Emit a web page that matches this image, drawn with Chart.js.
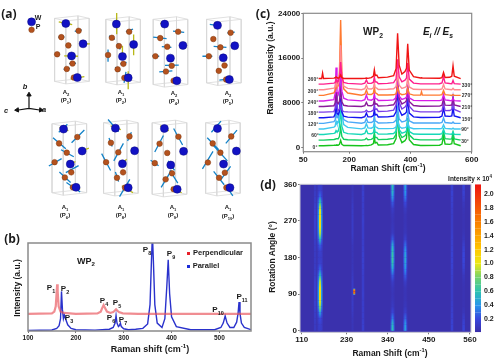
<!DOCTYPE html>
<html>
<head>
<meta charset="utf-8">
<title>WP2 Raman</title>
<script src="https://cdn.jsdelivr.net/npm/chart.js@4/dist/chart.umd.min.js"></script>
<style>
  html, body { margin: 0; padding: 0; background: #fff; }
  #page { position: relative; width: 500px; height: 360px; overflow: hidden; font-family: "Liberation Sans", sans-serif; color: #1a1a1a; }
  canvas { position: absolute; }
  .t { position: absolute; transform: translate(-50%, -50%); font-weight: bold; white-space: nowrap; line-height: 1; }
  .r { transform: translate(-50%, -50%) rotate(-90deg); }
  .panel { font: bold 12px "Open Sans", sans-serif; }
  .cell { font-size: 6px; }
  .peak { font-size: 8px; }
  .ang { font-size: 5px; color: #333; }
  .title { font-size: 8.5px; }
  .big { font-size: 10px; }
  sub, sup { font-size: 68%; line-height: 0; }
  .key { position: absolute; width: 3px; height: 3px; }
</style>
</head>
<body>
<div id="page">
  <canvas id="atoms" width="250" height="220" style="left:0;top:0"></canvas>
  <canvas id="specB" width="258" height="125" style="left:0;top:235px"></canvas>
  <canvas id="specC" width="225" height="165" style="left:255px;top:5px"></canvas>
  <canvas id="heat" width="232" height="172" style="left:255px;top:178px"></canvas>
  <canvas id="cbar" width="25" height="172" style="left:475px;top:178px"></canvas>

  <!-- panel a -->
  <div class="t panel" style="left:9px;top:13px">(a)</div>
  <div class="t" style="left:38px;top:17px;font-size:7px">W</div>
  <div class="t" style="left:38px;top:26px;font-size:7px">P</div>
  <div class="t" style="left:25px;top:87px;font-size:7.5px;font-style:italic">b</div>
  <div class="t" style="left:6px;top:111px;font-size:7.5px;font-style:italic">c</div>
  <div class="t" style="left:44px;top:110px;font-size:7.5px;font-style:italic">a</div>
  <div class="t cell" style="left:66px;top:92px">A<sub>2</sub></div>
  <div class="t cell" style="left:66px;top:100px">(P<sub>1</sub>)</div>
  <div class="t cell" style="left:121px;top:92px">A<sub>1</sub></div>
  <div class="t cell" style="left:121px;top:100px">(P<sub>2</sub>)</div>
  <div class="t cell" style="left:174px;top:93px">A<sub>2</sub></div>
  <div class="t cell" style="left:174px;top:101px">(P<sub>4</sub>)</div>
  <div class="t cell" style="left:228px;top:93px">A<sub>2</sub></div>
  <div class="t cell" style="left:228px;top:101px">(P<sub>5</sub>)</div>
  <div class="t cell" style="left:65px;top:207px">A<sub>1</sub></div>
  <div class="t cell" style="left:65px;top:215px">(P<sub>6</sub>)</div>
  <div class="t cell" style="left:121px;top:207px">A<sub>1</sub></div>
  <div class="t cell" style="left:121px;top:215px">(P<sub>8</sub>)</div>
  <div class="t cell" style="left:173px;top:207px">A<sub>1</sub></div>
  <div class="t cell" style="left:173px;top:215px">(P<sub>9</sub>)</div>
  <div class="t cell" style="left:228px;top:207px">A<sub>1</sub></div>
  <div class="t cell" style="left:228px;top:216px">(P<sub>10</sub>)</div>

  <!-- panel b -->
  <div class="t panel" style="left:12px;top:238px">(b)</div>
  <div class="t" style="left:86px;top:261px;font-size:9px">WP<sub>2</sub></div>
  <div class="t peak" style="left:51px;top:288px">P<sub>1</sub></div>
  <div class="t peak" style="left:65px;top:289px">P<sub>2</sub></div>
  <div class="t peak" style="left:69px;top:318px">P<sub>3</sub></div>
  <div class="t peak" style="left:104px;top:301px">P<sub>4</sub></div>
  <div class="t peak" style="left:117px;top:303px">P<sub>5</sub></div>
  <div class="t peak" style="left:111px;top:318px">P<sub>6</sub></div>
  <div class="t peak" style="left:123px;top:320px">P<sub>7</sub></div>
  <div class="t peak" style="left:147px;top:250px">P<sub>8</sub></div>
  <div class="t peak" style="left:171px;top:254px">P<sub>9</sub></div>
  <div class="t peak" style="left:218px;top:310px">P<sub>10</sub></div>
  <div class="t peak" style="left:242px;top:297px">P<sub>11</sub></div>
  <div class="key" style="left:187px;top:252px;background:#e8202a"></div>
  <div class="t" style="left:218px;top:253px;font-size:7.5px">Perpendicular</div>
  <div class="key" style="left:187px;top:265px;background:#1c2cd8"></div>
  <div class="t" style="left:206px;top:266px;font-size:7.5px">Parallel</div>
  <div class="t title r" style="left:17px;top:288px">Intensity (a.u.)</div>
  <div class="t" style="left:150px;top:349px;font-size:9px">Raman shift (cm<sup>-1</sup>)</div>

  <!-- panel c -->
  <div class="t panel" style="left:263px;top:13px">(c)</div>
  <div class="t big" style="left:373px;top:32px">WP<sub>2</sub></div>
  <div class="t big" style="left:438px;top:32px;font-style:italic">E<sub>i</sub> // E<sub>s</sub></div>
  <div class="t title r" style="left:270px;top:68px">Raman Instensity (a.u.)</div>
  <div class="t title" style="left:388px;top:168px">Raman Shift (cm<sup>-1</sup>)</div>
  <div class="t ang" style="left:313px;top:79px">360°</div>
  <div class="t ang" style="left:313px;top:91px">300°</div>
  <div class="t ang" style="left:313px;top:102px">240°</div>
  <div class="t ang" style="left:313px;top:113px">180°</div>
  <div class="t ang" style="left:313px;top:124px">120°</div>
  <div class="t ang" style="left:315px;top:135px">60°</div>
  <div class="t ang" style="left:315px;top:147px">0°</div>
  <div class="t ang" style="left:467px;top:85px">330°</div>
  <div class="t ang" style="left:467px;top:95px">270°</div>
  <div class="t ang" style="left:467px;top:107px">210°</div>
  <div class="t ang" style="left:467px;top:119px">150°</div>
  <div class="t ang" style="left:465px;top:129px">90°</div>
  <div class="t ang" style="left:465px;top:141px">30°</div>

  <!-- panel d -->
  <div class="t panel" style="left:268px;top:184px">(d)</div>
  <div class="t title r" style="left:272px;top:257px">Rotation Angle (°)</div>
  <div class="t title" style="left:390px;top:353px">Raman Shift (cm<sup>-1</sup>)</div>
  <div class="t" style="left:470px;top:179px;font-size:6.5px">Intensity × 10<sup>4</sup></div>
</div>

<script>
  /* ---------- (a) atoms, all read in 3x crop units ---------- */
  const wAtoms = [
    [83, 53],
    [190, 58], [244, 122], [208, 160], [226, 228],
    [348, 60], [402, 124], [367, 162], [385, 229],
    [499, 60], [556, 127], [517, 167], [537, 238],
    [664, 64], [718, 128], [682, 166], [701, 234],
    [183, 390], [241, 459], [204, 500], [222, 573],
    [345, 387], [405, 458], [367, 499], [385, 574],
    [498, 388], [558, 460], [518, 503], [538, 579],
    [664, 388], [723, 459], [683, 500], [703, 574]
  ];
  const pAtoms = [
    [83, 78],
    [230, 81], [176, 101], [198, 127], [163, 155], [211, 184], [193, 201], [215, 228],
    [388, 84], [334, 103], [356, 129], [322, 157], [370, 185], [352, 202], [373, 229],
    [541, 84], [485, 104], [507, 131], [470, 161], [521, 191], [503, 209], [527, 238],
    [705, 87], [651, 107], [673, 133], [637, 161], [686, 190], [668, 207], [691, 234],
    [226, 415], [169, 435], [193, 464], [155, 494], [207, 526], [187, 542], [212, 573],
    [389, 413], [331, 433], [354, 463], [316, 494], [369, 526], [350, 543], [375, 574],
    [542, 414], [483, 436], [507, 465], [468, 497], [522, 529], [502, 548], [527, 579],
    [707, 413], [649, 435], [673, 464], [634, 495], [687, 527], [669, 543], [692, 574]
  ];
  const yellowArrows = [
    [168, 53, 210, 62], [232, 122, 265, 122], [185, 160, 228, 161], [205, 232, 248, 225],
    [349, 25, 349, 92], [402, 93, 402, 158], [367, 128, 367, 158], [385, 208, 385, 265],
    [485, 57, 500, 62], [548, 127, 560, 127], [525, 238, 535, 240],
    [170, 385, 198, 395], [250, 455, 262, 450], [210, 498, 220, 492], [205, 570, 235, 578],
    [330, 380, 362, 392], [395, 450, 414, 462], [375, 490, 380, 485], [365, 568, 400, 590],
    [485, 380, 512, 395], [550, 458, 568, 452], [508, 500, 525, 510], [520, 572, 552, 590]
  ];
  const blueArrows = [
    [218, 83, 240, 78], [166, 101, 186, 100], [190, 127, 207, 127], [155, 155, 172, 155], [200, 184, 222, 183], [183, 202, 203, 199],
    [378, 84, 400, 76], [325, 97, 343, 108], [352, 120, 360, 140], [322, 140, 322, 178], [360, 185, 380, 180], [344, 196, 360, 208], [378, 210, 372, 245],
    [463, 101, 505, 106], [525, 82, 560, 86], [490, 131, 520, 133], [460, 160, 482, 161], [500, 190, 543, 189], [482, 210, 523, 207],
    [640, 61, 662, 64], [695, 88, 718, 85], [652, 130, 692, 133], [617, 161, 648, 161], [680, 190, 695, 188], [660, 207, 677, 204], [670, 236, 690, 234],
    [208, 433, 248, 393], [150, 417, 190, 452], [175, 455, 215, 477], [137, 506, 177, 483], [190, 527, 230, 505], [170, 525, 205, 558], [192, 558, 235, 588], [168, 400, 195, 375],
    [322, 360, 355, 398], [383, 427, 395, 400], [325, 418, 335, 445], [340, 490, 370, 435], [302, 467, 330, 520], [345, 525, 355, 555], [358, 602, 390, 548],
    [527, 388, 555, 440], [468, 462, 495, 410], [455, 488, 480, 505], [510, 490, 530, 520], [488, 573, 520, 520], [515, 520, 540, 560],
    [690, 435, 725, 393], [632, 417, 668, 455], [650, 440, 695, 490], [617, 515, 650, 460], [675, 548, 705, 507], [652, 523, 685, 565], [692, 570, 712, 600], [645, 400, 675, 365]
  ];
  const triadLines = [[75, 325, 75, 285], [75, 325, 108, 330], [75, 325, 42, 330]];
  const triadTips = [[75, 282], [112, 330], [38, 330]];
  const triadTurns = [0, 95, -95];
  // top-left corner and height of every unit cell
  const cellOrigins = [[155, 42, 198], [315, 45, 198], [463, 45, 205], [630, 45, 200], [147, 373, 217], [308, 370, 222], [460, 370, 225], [627, 370, 222]];
  const cellFace = [[0, 0], [73, -8], [108, 0], [35, 8], [0, 0]];

  /* ---------- (b) calculated spectra ---------- */
  const perpX = [100, 150, 155, 158, 160, 161, 162, 164, 168, 175, 200, 245, 252, 255, 258, 261, 265, 272, 278, 281, 284, 287, 290, 298, 330, 566];
  const perpY = [19.5, 20, 22, 28, 45, 53, 45, 28, 22, 20.5, 19.5, 20, 22, 26, 29.5, 26, 22, 20.5, 21.5, 23, 24.7, 23, 21.5, 20, 19.5, 19.5];
  const paraX = [100, 150, 160, 165, 168, 170, 172, 174, 176, 179, 183, 190, 200, 240, 270, 278, 282, 284, 286, 289, 291, 293, 295, 300, 310, 325, 340, 350, 355, 358, 360, 362, 365, 370, 380, 386, 390, 393, 396, 400, 410, 440, 490, 503, 508, 512, 516, 522, 530, 536, 539, 541, 543, 546, 552, 566];
  const paraY = [0.5, 1.2, 3, 6, 14, 45, 24, 14, 18, 13, 7, 3, 1.5, 1, 2, 4, 9, 17.5, 9, 5, 6, 9, 5, 2.5, 1.5, 2, 3, 8, 30, 80, 110, 80, 30, 9, 4, 14, 50, 81, 42, 16, 5, 1.5, 1.5, 4, 9, 17, 9, 4, 4, 10, 20, 33, 20, 9, 4, 1.5];
  const bTicksX = [100, 200, 300, 400, 500];

  /* ---------- (c) stacked polarised spectra ---------- */
  const shifts = [100, 110, 113, 116, 150, 154, 157, 160, 164, 168, 172, 176, 182, 195, 240, 251, 256, 261, 272, 279, 282, 285, 290, 295, 325, 345, 353, 358, 363, 372, 382, 387, 391, 396, 410, 433, 436, 439, 495, 503, 508, 513, 528, 535, 539, 543, 564];
  const angles = [0, 30, 60, 90, 120, 150, 180, 210, 240, 270, 300, 330, 360];
  const angleOffsets = [300, 1300, 2300, 3300, 4300, 5300, 6300, 7300, 8300, 9300, 10300, 11300, 12300];
  const angleColors = ['#16c41c', '#10d060', '#18d8b8', '#40c8f0', '#4aa8f8', '#1414f0', '#7a3ce8', '#8a1a9a', '#d81ce8', '#ff7a30', '#ff8a90', '#ff1e8c', '#f01414'];
  const i0 = [50, 50, 50, 50, 130, 150, 150, 190, 130, 300, 1000, 300, 90, 90, 60, 70, 100, 70, 200, 450, 1500, 550, 650, 180, 240, 420, 1320, 6000, 1800, 610, 960, 1365, 4500, 1125, 270, 100, 100, 100, 140, 360, 1800, 360, 300, 400, 2000, 400, 50];
  const i30 = [50, 50, 50, 50, 170, 210, 315, 300, 290, 700, 2300, 690, 210, 130, 60, 130, 400, 130, 190, 420, 1400, 500, 540, 150, 210, 360, 1100, 5000, 1500, 520, 820, 1200, 4000, 1000, 240, 100, 100, 100, 130, 320, 1600, 320, 240, 280, 1400, 280, 50];
  const i60 = [50, 50, 50, 50, 250, 350, 750, 550, 640, 1520, 5000, 1500, 450, 210, 60, 230, 900, 230, 180, 390, 1300, 450, 430, 125, 150, 240, 660, 3000, 900, 310, 490, 720, 2400, 600, 145, 100, 100, 100, 100, 200, 1000, 200, 120, 100, 500, 100, 50];
  const i90 = [50, 50, 50, 50, 370, 570, 1450, 970, 1160, 2740, 9000, 2700, 810, 330, 60, 250, 1000, 250, 180, 390, 1300, 430, 330, 105, 110, 160, 375, 1700, 510, 175, 275, 395, 1300, 325, 80, 100, 100, 100, 90, 160, 800, 160, 80, 40, 200, 40, 50];
  const i120 = [50, 50, 50, 50, 340, 640, 1900, 1060, 1080, 2460, 8000, 2400, 720, 300, 60, 230, 900, 230, 190, 420, 1400, 460, 340, 110, 145, 230, 615, 2800, 840, 285, 440, 610, 2000, 500, 120, 100, 100, 100, 100, 200, 1000, 200, 100, 60, 300, 60, 50];
  const i150 = [50, 50, 50, 50, 205, 700, 2675, 845, 620, 1150, 3500, 1050, 315, 165, 60, 230, 900, 230, 200, 450, 1500, 550, 650, 175, 210, 360, 1100, 5000, 1500, 505, 780, 1075, 3500, 875, 210, 100, 100, 100, 140, 360, 1800, 360, 290, 370, 1850, 370, 50];
  const i180 = [50, 50, 50, 50, 145, 745, 3075, 805, 300, 570, 1500, 450, 135, 105, 60, 130, 400, 130, 190, 420, 1400, 520, 640, 170, 240, 420, 1320, 6000, 1800, 610, 960, 1365, 4500, 1125, 270, 100, 100, 100, 130, 320, 1600, 320, 340, 520, 2600, 520, 50];
  const i210 = [50, 50, 50, 50, 190, 690, 2650, 810, 560, 1000, 3000, 900, 270, 150, 60, 210, 800, 210, 180, 390, 1300, 470, 530, 145, 210, 360, 1100, 5000, 1500, 515, 805, 1150, 3800, 950, 230, 100, 100, 100, 125, 300, 1500, 300, 250, 320, 1600, 320, 50];
  const i240 = [50, 50, 50, 50, 280, 1420, 6000, 1660, 1180, 2030, 6000, 1800, 540, 240, 60, 270, 1100, 270, 180, 390, 1300, 450, 430, 125, 150, 240, 660, 3000, 900, 315, 500, 745, 2500, 625, 150, 100, 100, 100, 110, 240, 1200, 240, 135, 100, 500, 100, 50];
  const i270 = [50, 50, 50, 50, 500, 900, 2675, 1440, 1780, 4130, 13500, 4050, 1215, 465, 60, 250, 1000, 250, 200, 450, 1500, 490, 350, 115, 105, 150, 330, 1500, 450, 160, 255, 385, 1300, 325, 80, 100, 700, 100, 95, 180, 900, 180, 90, 40, 200, 40, 50];
  const i300 = [50, 50, 50, 50, 340, 540, 1400, 860, 1040, 2440, 8000, 2400, 720, 300, 60, 230, 900, 230, 180, 390, 1300, 430, 330, 105, 145, 230, 615, 2800, 840, 290, 455, 665, 2200, 550, 130, 100, 100, 100, 100, 200, 1000, 200, 100, 60, 300, 60, 50];
  const i330 = [50, 50, 50, 50, 220, 340, 800, 500, 530, 1220, 4000, 1200, 360, 180, 60, 210, 800, 210, 180, 390, 1300, 450, 430, 125, 195, 330, 990, 4500, 1350, 455, 750, 1130, 3800, 950, 230, 100, 100, 100, 120, 280, 1400, 280, 170, 140, 700, 140, 50];
  const i360 = [50, 50, 1000, 50, 120, 190, 335, 210, 110, 220, 700, 210, 60, 80, 60, 80, 150, 80, 210, 480, 1600, 580, 660, 180, 300, 550, 1800, 8150, 2450, 840, 1315, 1890, 6250, 1560, 375, 150, 180, 150, 110, 225, 1130, 225, 275, 465, 2320, 465, 50];
  const spectra = [i0, i30, i60, i90, i120, i150, i180, i210, i240, i270, i300, i330, i360];
  const cTicksX = [50, 200, 400, 600];
  const cTicksY = [0, 8000, 16000, 24000];

  /* ---------- (d) intensity map, x 10^4, one row every 15 degrees ---------- */
  const heatAngles = [0, 15, 30, 45, 60, 75, 90, 105, 120, 135, 150, 165, 180, 195, 210, 225, 240, 255, 270, 285, 300, 315, 330, 345, 360];
  const core159 = [.12, .14, .2, .45, .85, 1.05, 1.1, 1.05, .9, .55, .28, .15, .12, .14, .25, .55, .9, 1.05, 1.1, 1.05, .95, .6, .28, .15, .12];
  const halo159 = [.12, .12, .15, .25, .35, .4, .42, .4, .35, .28, .18, .13, .12, .12, .18, .28, .36, .4, .42, .4, .36, .3, .18, .13, .12];
  const line146 = [.1, .1, .11, .12, .14, .15, .16, .15, .14, .12, .11, .1, .1, .1, .11, .12, .14, .15, .16, .15, .14, .12, .11, .1, .1];
  const line246 = [.07, .07, .08, .1, .12, .12, .12, .12, .12, .1, .08, .07, .07, .07, .08, .1, .12, .12, .12, .12, .12, .1, .08, .07, .07];
  const line274 = [.14, .14, .13, .13, .13, .13, .14, .13, .13, .13, .14, .14, .15, .14, .13, .13, .13, .13, .14, .13, .13, .13, .14, .14, .14];
  const core353 = [.6, .55, .35, .18, .1, .08, .07, .08, .12, .25, .45, .6, .65, .6, .5, .25, .1, .08, .07, .08, .12, .25, .45, .55, .6];
  const halo353 = [.3, .28, .18, .11, .07, .06, .05, .06, .08, .14, .24, .3, .32, .3, .25, .14, .07, .06, .05, .06, .08, .14, .24, .28, .3];
  const core387 = [.45, .42, .28, .14, .08, .07, .06, .07, .12, .25, .38, .45, .48, .42, .3, .15, .08, .07, .06, .07, .1, .2, .35, .42, .45];
  const halo387 = [.24, .22, .15, .09, .06, .05, .05, .05, .08, .14, .2, .24, .25, .22, .16, .09, .06, .05, .05, .05, .07, .12, .19, .22, .24];
  const line512 = [.16, .16, .15, .14, .13, .12, .12, .12, .13, .14, .15, .16, .16, .16, .15, .14, .13, .12, .12, .12, .13, .14, .15, .16, .16];
  const line543 = [.18, .17, .13, .08, .05, .05, .05, .05, .06, .09, .14, .18, .2, .18, .14, .09, .06, .05, .05, .05, .06, .09, .14, .17, .18];
  const spotAngles = [88, 92, 96, 100, 104];
  const spotLevels = [.4, 1.5, 1.8, 1.5, .4];
  const heatTicksX = [110, 230, 340, 450, 560];
  const heatTicksY = [0, 90, 180, 270, 360];
  const barLevels = [.01, .1, .2, .3, .4, .5, .6, .7, .8, .9, 1, 1.1, 1.2, 1.3, 1.4, 1.5, 1.6, 1.7, 1.8, 1.9, 2, 2.14];
  const barTicks = [.2, .4, .6, .8, 1, 1.2, 1.4, 1.6, 1.8, 2];
  const mapLevels = [0, .2, .4, .6, .8, 1, 1.2, 1.6, 2.14];
  const mapColors = [[58, 45, 165], [56, 70, 220], [40, 150, 235], [45, 195, 175], [115, 210, 110], [236, 232, 20], [255, 200, 0], [248, 125, 0], [238, 20, 16]];

  Chart.defaults.animation = false;
  Chart.defaults.responsive = false;
  Chart.defaults.font.family = '"Liberation Sans", sans-serif';
  Chart.defaults.font.weight = 'bold';
  Chart.defaults.color = '#1a1a1a';
  Chart.defaults.plugins.legend.display = false;
  Chart.defaults.plugins.tooltip.enabled = false;
  Chart.defaults.elements.point.radius = 0;

  // plain box round the plot area
  const framePlugin = {
    id: 'frame',
    afterDatasetsDraw(chart, args, opts) {
      const a = chart.chartArea, c = chart.ctx;
      c.save();
      c.strokeStyle = opts.color || '#888';
      c.lineWidth = opts.width || 1.5;
      c.strokeRect(a.left, a.top, a.width, a.height);
      c.restore();
    }
  };
  const paintPlugin = {
    id: 'paint',
    beforeDatasetsDraw(chart, args, opts) {
      const a = chart.chartArea;
      chart.ctx.fillStyle = opts.color;
      chart.ctx.fillRect(a.left, a.top, a.width, a.height);
    }
  };

  // keep the plot area where the reference has it
  function fixSize(px) {
    return s => {
      if (s.isHorizontal()) s.height = px; else s.width = px;
      s.paddingLeft = s.paddingRight = s.paddingTop = s.paddingBottom = 0;
    };
  }
  function useTicks(list) {
    return s => { s.ticks = list.map(v => ({ value: v })); };
  }
  function axis(min, max, ticks, size, px, labels) {
    return {
      type: 'linear', min, max,
      afterBuildTicks: useTicks(ticks),
      afterFit: fixSize(px),
      grid: { drawOnChartArea: false, drawTicks: true, tickLength: 2, color: '#777' },
      border: { display: false },
      ticks: { display: labels !== false, autoSkip: false, maxRotation: 0, padding: 1, font: { size }, callback: v => String(v) }
    };
  }
  function pairs(xs, ys) {
    return xs.map((x, i) => ({ x, y: ys[i] }));
  }
  function strokes(list) {
    const out = [];
    list.forEach(s => {
      out.push({ x: s[0], y: s[1] }, { x: s[2], y: s[3] }, { x: null, y: null });
    });
    return out;
  }
  function cellBoxes() {
    const out = [];
    cellOrigins.forEach(([ox, oy, h]) => {
      [0, h].forEach(dy => {
        cellFace.forEach(f => out.push({ x: ox + f[0], y: oy + f[1] + dy }));
        out.push({ x: null, y: null });
      });
      cellFace.slice(0, 4).forEach(f => {
        out.push({ x: ox + f[0], y: oy + f[1] }, { x: ox + f[0], y: oy + f[1] + h }, { x: null, y: null });
      });
    });
    return out;
  }

  // intensity to map colour
  function mapColor(v) {
    let i = 0;
    while (i < mapLevels.length - 2 && v > mapLevels[i + 1]) i++;
    const t = Math.min(1, Math.max(0, (v - mapLevels[i]) / (mapLevels[i + 1] - mapLevels[i])));
    const c = mapColors[i].map((a, k) => Math.round(a + (mapColors[i + 1][k] - a) * t));
    return `rgb(${c[0]},${c[1]},${c[2]})`;
  }
  // vertical strip, colour runs along the data
  function strip(x, ys, levels, width) {
    return {
      data: ys.map(y => ({ x, y })),
      borderWidth: width,
      borderCapStyle: 'butt',
      borderColor: mapColor(levels[0]),
      segment: {
        borderColor: ctx => {
          const g = ctx.chart.ctx.createLinearGradient(0, ctx.p0.y, 0, ctx.p1.y);
          g.addColorStop(0, mapColor(levels[ctx.p0DataIndex]));
          g.addColorStop(1, mapColor(levels[ctx.p1DataIndex]));
          return g;
        }
      }
    };
  }

  /* ---------- (a) ---------- */
  new Chart(document.getElementById('atoms'), {
    type: 'scatter',
    data: {
      datasets: [
        { data: wAtoms.map(p => ({ x: p[0], y: p[1] })), pointRadius: 4, backgroundColor: '#1212c4', borderColor: '#0a0a80', borderWidth: .5 },
        { data: pAtoms.map(p => ({ x: p[0], y: p[1] })), pointRadius: 2.8, backgroundColor: '#b4521e', borderColor: '#80380f', borderWidth: .5 },
        { data: triadTips.map(p => ({ x: p[0], y: p[1] })), pointStyle: 'triangle', pointRadius: 2.5, pointRotation: triadTurns, backgroundColor: '#111', borderColor: '#111' },
        { data: strokes(triadLines), showLine: true, borderColor: '#111', borderWidth: 1.2 },
        { data: strokes(blueArrows), showLine: true, borderColor: '#1583c8', borderWidth: 1.3 },
        { data: strokes(yellowArrows), showLine: true, borderColor: '#b8b818', borderWidth: 1.3 },
        { data: cellBoxes(), showLine: true, borderColor: '#d8d8d8', borderWidth: .8 }
      ]
    },
    options: {
      scales: {
        x: { type: 'linear', display: false, min: 0, max: 750 },
        y: { type: 'linear', display: false, min: 0, max: 660, reverse: true }
      }
    }
  });

  /* ---------- (b) ---------- */
  new Chart(document.getElementById('specB'), {
    type: 'line',
    data: {
      datasets: [
        { label: 'Perpendicular', data: pairs(perpX, perpY), borderColor: 'rgba(232,80,88,.65)', borderWidth: 2.2 },
        { label: 'Parallel', data: pairs(paraX, paraY), borderColor: '#2a32cc', borderWidth: 1.4 }
      ]
    },
    plugins: [framePlugin],
    options: {
      layout: { padding: { top: 8, right: 7 } },
      plugins: { frame: { color: '#8a8a8a', width: 1.5 } },
      scales: {
        x: axis(100, 566, bTicksX, 6.5, 29),
        y: axis(0, 100, [], 7, 28, false)
      }
    }
  });

  /* ---------- (c) ---------- */
  new Chart(document.getElementById('specC'), {
    type: 'line',
    data: {
      datasets: angles.map((a, i) => ({
        label: a + '°',
        data: pairs(shifts, spectra[i].map(v => v + angleOffsets[i])),
        borderColor: angleColors[i],
        borderWidth: 1.4
      })).reverse()
    },
    plugins: [framePlugin],
    options: {
      layout: { padding: { top: 8.3, right: 8.3 } },
      plugins: { frame: { color: '#8a8a8a', width: 1.2 } },
      scales: {
        x: axis(50, 600, cTicksX, 8, 18.3),
        y: axis(-714, 24000, cTicksY, 8, 48.3)
      }
    }
  });

  /* ---------- (d) ---------- */
  new Chart(document.getElementById('heat'), {
    type: 'line',
    data: {
      datasets: [
        strip(250.5, spotAngles, spotLevels, 2),
        strip(159, heatAngles, core159, 2),
        strip(159, heatAngles, halo159, 5),
        strip(146, heatAngles, line146, 2.5),
        strip(246, heatAngles, line246, 2),
        strip(274, heatAngles, line274, 2.5),
        strip(353, heatAngles, core353, 1.8),
        strip(353, heatAngles, halo353, 4),
        strip(387, heatAngles, core387, 1.8),
        strip(387, heatAngles, halo387, 4),
        strip(512, heatAngles, line512, 2.5),
        strip(543, heatAngles, line543, 2.5)
      ]
    },
    plugins: [paintPlugin, framePlugin],
    options: {
      layout: { padding: { top: 6.3, right: 16 } },
      plugins: { paint: { color: mapColor(.03) }, frame: { color: '#c8c8d0', width: 1 } },
      scales: {
        x: axis(105.5, 562.8, heatTicksX, 8, 17.7),
        y: axis(-4, 360, heatTicksY, 8, 45)
      }
    }
  });

  new Chart(document.getElementById('cbar'), {
    type: 'line',
    data: { datasets: [strip(0, barLevels, barLevels, 6)] },
    options: {
      layout: { padding: { top: 6.3, bottom: 17.7 } },
      scales: {
        x: { type: 'linear', display: false, min: -1, max: 1 },
        y: {
          type: 'linear', position: 'right', min: .01, max: 2.14,
          afterBuildTicks: useTicks(barTicks),
          afterFit: fixSize(19),
          grid: { display: false, drawTicks: false },
          border: { display: false },
          ticks: { autoSkip: false, padding: 3, font: { size: 7 }, callback: v => v.toFixed(1) }
        }
      }
    }
  });
</script>
</body>
</html>
